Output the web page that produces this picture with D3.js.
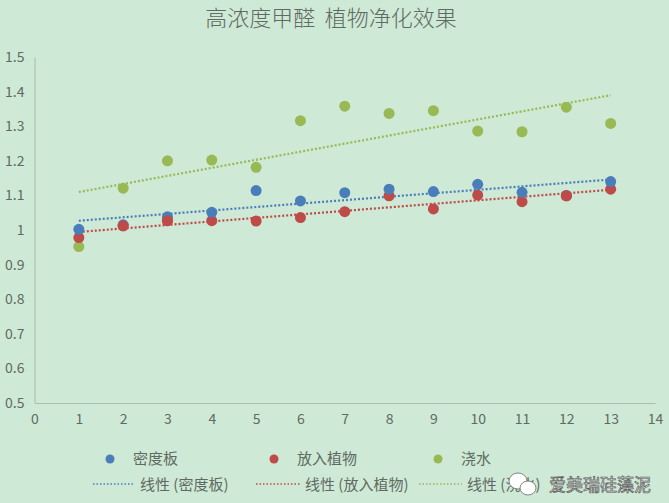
<!DOCTYPE html>
<html>
<head>
<meta charset="utf-8">
<script src="https://cdn.jsdelivr.net/npm/d3@7"></script>
<style>
  html, body { margin: 0; padding: 0; background: #cee9d6; }
  svg { display: block; }
  .axis text { font-family: "Liberation Sans Narrow", "Noto Sans CJK SC", sans-serif; font-size: 14px; fill: #5f6b62; }
</style>
</head>
<body>
<svg id="chart" width="669" height="503"></svg>
<script>
// Scatter of formaldehyde readings with linear trendlines, three series
const days = [1, 2, 3, 4, 5, 6, 7, 8, 9, 10, 11, 12, 13];
const board = [1.002, 1.015, 1.038, 1.051, 1.114, 1.084, 1.108, 1.118, 1.111, 1.132, 1.109, 1.100, 1.140];
const plant = [0.978, 1.012, 1.027, 1.027, 1.026, 1.036, 1.053, 1.099, 1.061, 1.101, 1.082, 1.099, 1.118];
const water = [0.952, 1.121, 1.200, 1.202, 1.181, 1.316, 1.358, 1.337, 1.345, 1.286, 1.284, 1.355, 1.308];
const seriesNames = ["密度板", "放入植物", "浇水"];
const xTicks = d3.range(0, 15);
const yTicks = [0.5, 0.6, 0.7, 0.8, 0.9, 1, 1.1, 1.2, 1.3, 1.4, 1.5];

const colors = ["#4a7ebb", "#be4b48", "#98b954"];
const series = [board, plant, water].map((vals, i) => ({
  name: seriesNames[i],
  color: colors[i],
  points: days.map((d, j) => ({ x: d, y: vals[j] }))
}));

const svg = d3.select("#chart");
const x = d3.scaleLinear().domain([0, 14]).range([34.5, 655]);
const y = d3.scaleLinear().domain([0.5, 1.5]).range([403, 57]);

// least squares fit, like Excel's linear trendline
function fit(pts) {
  const mx = d3.mean(pts, p => p.x), my = d3.mean(pts, p => p.y);
  const b = d3.sum(pts, p => (p.x - mx) * (p.y - my)) / d3.sum(pts, p => (p.x - mx) ** 2);
  return v => my + b * (v - mx);
}

svg.append("text")
  .attr("x", 331)
  .attr("y", 26)
  .attr("text-anchor", "middle")
  .style("font-family", "Noto Sans CJK SC")
  .style("font-size", "22px")
  .style("font-weight", 300)
  .style("fill", "#5f6b62")
  .style("white-space", "pre")
  .text("高浓度甲醛  植物净化效果");

const xAxis = svg.append("g")
  .attr("class", "axis")
  .attr("transform", `translate(0,${y(0.5)})`)
  .call(d3.axisBottom(x).tickValues(xTicks).tickSize(0).tickPadding(11).tickFormat(d3.format("d")));
xAxis.select(".domain").attr("stroke", "#aabdb0");

const yAxis = svg.append("g")
  .attr("class", "axis")
  .attr("transform", `translate(${x(0)},0)`)
  .call(d3.axisLeft(y).tickValues(yTicks).tickSize(0).tickPadding(10).tickFormat(d => d3.format("")(+d.toFixed(1))));
yAxis.select(".domain").attr("stroke", "#aabdb0");

// trendlines
series.forEach(s => {
  const f = fit(s.points);
  svg.append("line")
    .attr("x1", x(1)).attr("y1", y(f(1)))
    .attr("x2", x(13)).attr("y2", y(f(13)))
    .attr("stroke", s.color)
    .attr("stroke-width", 2.2)
    .attr("stroke-dasharray", "2,2");
});

// markers: green first, then red, then blue on top like the reference stacking
[series[2], series[1], series[0]].forEach(s => {
  svg.append("g").selectAll("circle")
    .data(s.points)
    .join("circle")
    .attr("cx", d => x(d.x))
    .attr("cy", d => y(d.y))
    .attr("r", 5.5)
    .attr("fill", s.color);
});
// red sits over blue where they overlap
svg.append("g").selectAll("circle")
  .data(series[1].points.filter((d, i) => Math.abs(d.y - board[i]) < 0.012))
  .join("circle")
  .attr("cx", d => x(d.x))
  .attr("cy", d => y(d.y))
  .attr("r", 5.5)
  .attr("fill", colors[1]);

// legend
const legendFont = { family: "Noto Sans CJK SC", size: "15px", fill: "#5f6b62" };
const markerX = [110, 274, 438];
const lineX = [[93, 135], [256, 300], [419, 462]];
series.forEach((s, i) => {
  svg.append("circle").attr("cx", markerX[i]).attr("cy", 459).attr("r", 4.5).attr("fill", s.color);
  svg.append("text")
    .attr("x", markerX[i] + 23).attr("y", 464)
    .style("font-family", legendFont.family).style("font-size", legendFont.size).style("fill", legendFont.fill)
    .text(s.name);
  svg.append("line")
    .attr("x1", lineX[i][0]).attr("x2", lineX[i][1])
    .attr("y1", 484).attr("y2", 484)
    .attr("stroke", s.color).attr("stroke-width", 1.5).attr("stroke-dasharray", "1.5,2");
  svg.append("text")
    .attr("x", lineX[i][1] + 5).attr("y", 490)
    .style("font-family", legendFont.family).style("font-size", legendFont.size).style("fill", legendFont.fill)
    .text(`线性 (${s.name})`);
});

// watermark
const wm = svg.append("g").attr("transform", "translate(523,484)");
wm.append("ellipse").attr("cx", -5).attr("cy", -3).attr("rx", 9).attr("ry", 8).attr("fill", "#fff").attr("stroke", "#666").attr("stroke-width", 0.8);
wm.append("ellipse").attr("cx", 5).attr("cy", 4).attr("rx", 8).attr("ry", 7).attr("fill", "#fff").attr("stroke", "#666").attr("stroke-width", 0.8);
svg.append("text")
  .attr("x", 549).attr("y", 491)
  .style("font-family", "Noto Sans CJK SC")
  .style("font-size", "17px")
  .style("fill", "#fff")
  .style("stroke", "#555")
  .style("stroke-width", 0.7)
  .text("爱美瑞硅藻泥");
</script>
</body>
</html>
